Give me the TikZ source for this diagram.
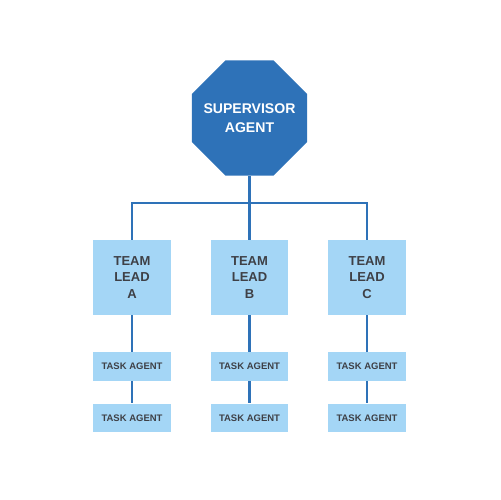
\documentclass[tikz,border=0pt]{standalone}
\usepackage{fontspec}
\setmainfont{Liberation Sans}
\usetikzlibrary{shapes.geometric}
\definecolor{supblue}{RGB}{46,114,184}
\definecolor{leadblue}{RGB}{164,214,246}
\definecolor{labelgray}{RGB}{62,64,70}

\begin{document}
\begin{tikzpicture}
        [
            x = 0.02cm, y = -0.02cm,
            sup/.style = {regular polygon, regular polygon sides = 8, minimum size = 2.5cm, inner sep = 0pt,
                fill = supblue, text = white, align = center, font = \bfseries\fontsize{8}{10.8}\selectfont},
            lead/.style = {fill = leadblue, minimum width = 1.56cm, minimum height = 1.5cm, inner sep = 0pt,
                text = labelgray, align = center, font = \bfseries\fontsize{7.4}{9.4}\selectfont},
            task/.style = {fill = leadblue, minimum width = 1.56cm, minimum height = 0.57cm, inner sep = 0pt,
                text = labelgray, font = \bfseries\fontsize{5.4}{6}\selectfont},
            link/.style = {draw = supblue, line width = 1.7pt}
        ]

        \useasboundingbox (0,0) rectangle (500,500);

        \node [sup] (super) at (249.5,118) {\makebox[0pt]{SUPERVISOR}\\\makebox[0pt]{AGENT}};

        \node [lead] (leadA) at (132,277.5) {TEAM\\LEAD\\A};
        \node [lead] (leadB) at (249.5,277.5) {TEAM\\LEAD\\B};
        \node [lead] (leadC) at (367,277.5) {TEAM\\LEAD\\C};

        \node [task] (taskA1) at (132,366.5) {TASK AGENT};
        \node [task] (taskA2) at (132,418) {TASK AGENT};
        \node [task] (taskB1) at (249.5,366.5) {TASK AGENT};
        \node [task] (taskB2) at (249.5,418) {TASK AGENT};
        \node [task] (taskC1) at (367,366.5) {TASK AGENT};
        \node [task] (taskC2) at (367,418) {TASK AGENT};

        \coordinate (bar) at (249.5,203);

        \draw [link] (super) -- (leadB);
        \draw [link] (leadA.north) |- (bar) -| (leadC.north);

        \draw [link] (leadA) -- (taskA1) -- (taskA2);
        \draw [link] (leadB) -- (taskB1) -- (taskB2);
        \draw [link] (leadC) -- (taskC1) -- (taskC2);
    \end{tikzpicture}
\end{document}
